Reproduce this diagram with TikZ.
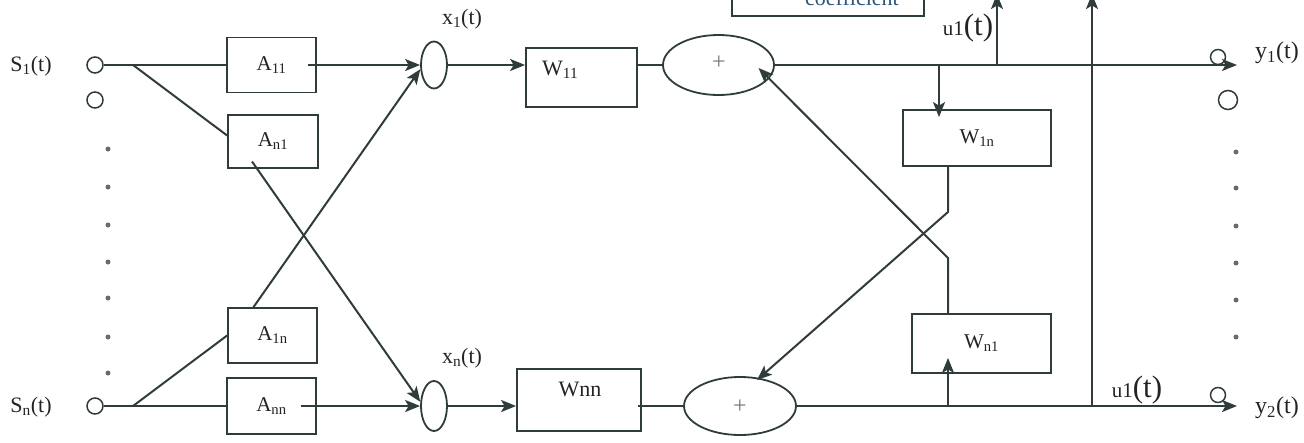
\documentclass[tikz,border=0pt]{standalone}
\usepackage{fontspec}
\setmainfont{Liberation Serif}
\usetikzlibrary{shapes.geometric,arrows.meta,calc}
\definecolor{ln}{RGB}{48,60,60}
\definecolor{tx}{RGB}{35,35,35}
\definecolor{ctx}{RGB}{45,85,120}
\newcommand\fsz[1]{\fontsize{#1}{#1}\selectfont}
\begin{document}
\begin{tikzpicture}[x=1pt,y=-1pt,
  ln/.style={draw=ln,line width=2pt},
  arr/.style={ln,-{Stealth[length=15pt,width=12pt,inset=3.5pt]}},
  box/.style={draw=ln,line width=1.8pt,rectangle,inner sep=0pt},
  port/.style={draw=ln,line width=1.5pt,circle,inner sep=0pt,minimum size=16pt},
  oval/.style={draw=ln,line width=1.8pt,ellipse,inner sep=0pt},
  lab/.style={font=\fsz{22},text=tx,inner sep=0pt},
  blab/.style={font=\fsz{21},text=tx,inner sep=0pt},
  smalldot/.style={circle,fill=ln!75,inner sep=0pt,minimum size=5pt},
  plus/.style={font=\fsz{24},text=ln!70,inner sep=0pt},
]
\useasboundingbox (0,0) rectangle (1304,442);
\clip (0,0) rectangle (1304,442);

% input ports
\node[port] (sc1) at (95,65) {};
\node[port] (sc2) at (95,100) {};
\node[port] (scn) at (95,406) {};
\node[lab] (s1l) at (31,66) {S\textsubscript{1}(t)};
\node[lab] (snl) at (31,407) {S\textsubscript{n}(t)};
\foreach \yy [count=\i] in {149,187,225,262,298,337,373}
  \node[smalldot] (ld\i) at (108,\yy) {};
\foreach \yy [count=\i] in {152,188,226,263,300,337}
  \node[smalldot] (rd\i) at (1236,\yy) {};

% A boxes
\node[box,blab,minimum width=89pt,minimum height=55pt] (A11) at (271.5,65) {A\textsubscript{11}};
\node[box,blab,minimum width=90pt,minimum height=53pt] (An1) at (273,141.5) {A\textsubscript{n1}};
\node[box,blab,minimum width=89pt,minimum height=55pt] (A1n) at (272.5,335.5) {A\textsubscript{1n}};
\node[box,blab,minimum width=89pt,minimum height=56pt] (Ann) at (271.5,406) {A\textsubscript{nn}};

% x ellipses
\node[oval,minimum width=26pt,minimum height=47pt] (ex1) at (434,65) {};
\node[oval,minimum width=26pt,minimum height=50pt] (exn) at (434,406) {};
\node[lab] (x1l) at (462,19) {x\textsubscript{1}(t)};
\node[lab] (xnl) at (462,358) {x\textsubscript{n}(t)};

% W boxes
\node[box,minimum width=111pt,minimum height=59pt] (W11) at (581.5,77.5) {};
\node[lab,anchor=west] (W11t) at (542,70) {W\textsubscript{11}};
\node[box,minimum width=124pt,minimum height=62pt] (Wnn) at (579,400) {};
\node[lab] (Wnnt) at (580,389) {Wnn};
\node[box,blab,minimum width=148pt,minimum height=56pt] (W1n) at (977,138) {W\textsubscript{1n}};
\node[box,blab,minimum width=139pt,minimum height=59pt] (Wn1) at (981.5,343.5) {W\textsubscript{n1}};

% summing ellipses
\node[oval,minimum width=111pt,minimum height=60pt] (plus1) at (718.5,65) {};
\node[plus] (p1t) at (719,63) {+};
\node[oval,minimum width=112pt,minimum height=58pt] (plus2) at (740,406) {};
\node[plus] (p2t) at (740,407) {+};

% coefficient box (cut by the top edge)
\node[box,minimum width=192pt,minimum height=50pt] (coef) at (828,-9) {};
\node[lab,text=ctx,anchor=base] (coeft) at (852,5) {coefficient};

% output ports
\node[port,minimum size=15pt] (y1p) at (1218,57) {};
\node[port,minimum size=19pt] (y1q) at (1228,100) {};
\node[port,minimum size=15pt] (y2p) at (1218,395) {};
\node[lab,font=\fsz{24}] (y1l) at (1277,53) {y\textsubscript{1}(t)};
\node[lab,font=\fsz{24}] (y2l) at (1277,408) {y\textsubscript{2}(t)};
\node[inner sep=0pt,text=tx] (u1a) at (968,28) {{\fsz{21}u1}{\fsz{31}(t)}};
\node[inner sep=0pt,text=tx] (u1b) at (1137,390) {{\fsz{21}u1}{\fsz{31}(t)}};

% input wiring
\coordinate (b1) at (133,65);
\coordinate (bn) at (133,406);
\draw[ln] (sc1.east) -- (A11.west);
\draw[ln] (b1) -- ([yshift=6pt]An1.west);
\draw[ln] (scn.east) -- (Ann.west);
\draw[ln] (bn) -- (A1n.west);
\draw[arr] ([xshift=-9pt]A11.east) -- (ex1.west);
\draw[arr] ([xshift=-16pt]Ann.east) -- (exn.west);
\draw[arr] ([xshift=-21pt,yshift=-20pt]An1.center) -- (exn.163);
\draw[arr] ([xshift=-19pt]A1n.north) -- (ex1.197);

% x to W to sum
\draw[arr] (ex1.east) -- (ex1.east -| W11.west);
\draw[ln] (W11.east |- plus1.west) -- (plus1.west);
\draw[arr] (exn.east) -- (exn.east -| Wnn.west);
\coordinate (wnne) at ([xshift=-4pt]Wnn.east);
\draw[ln] (wnne |- plus2.west) -- (plus2.west);

% outputs
\coordinate (y1tip) at (1237,65);
\coordinate (y2tip) at (1237,406);
\draw[arr] (plus1.east) -- (y1tip);
\draw[arr] (plus2.east) -- (y2tip);

\coordinate (j1) at (939,65);
\coordinate (j2) at (997,65);
\coordinate (j4) at (948,406);
\coordinate (j5) at (1092,406);
\coordinate (u1top) at (997,-6);
\coordinate (vtop) at (1092,-6);
\draw[arr] (j1) -- ([xshift=-38pt,yshift=-8pt]W1n.north);
\draw[arr] (j2) -- (u1top);
\draw[arr] (j5) -- (vtop);
\draw[arr] (j4) -- ([xshift=-33.5pt,yshift=16pt]Wn1.south);

% cross feedback
\coordinate (k1) at (948,212);
\coordinate (k2) at (948,258);
\draw[arr] ([xshift=-29pt]W1n.south) -- (k1) -- ([xshift=17pt,yshift=26pt]plus2.center);
\draw[arr] ([xshift=-33.5pt]Wn1.north) -- (k2) -- ([xshift=40pt,yshift=-3pt]plus1.center);
\end{tikzpicture}
\end{document}
